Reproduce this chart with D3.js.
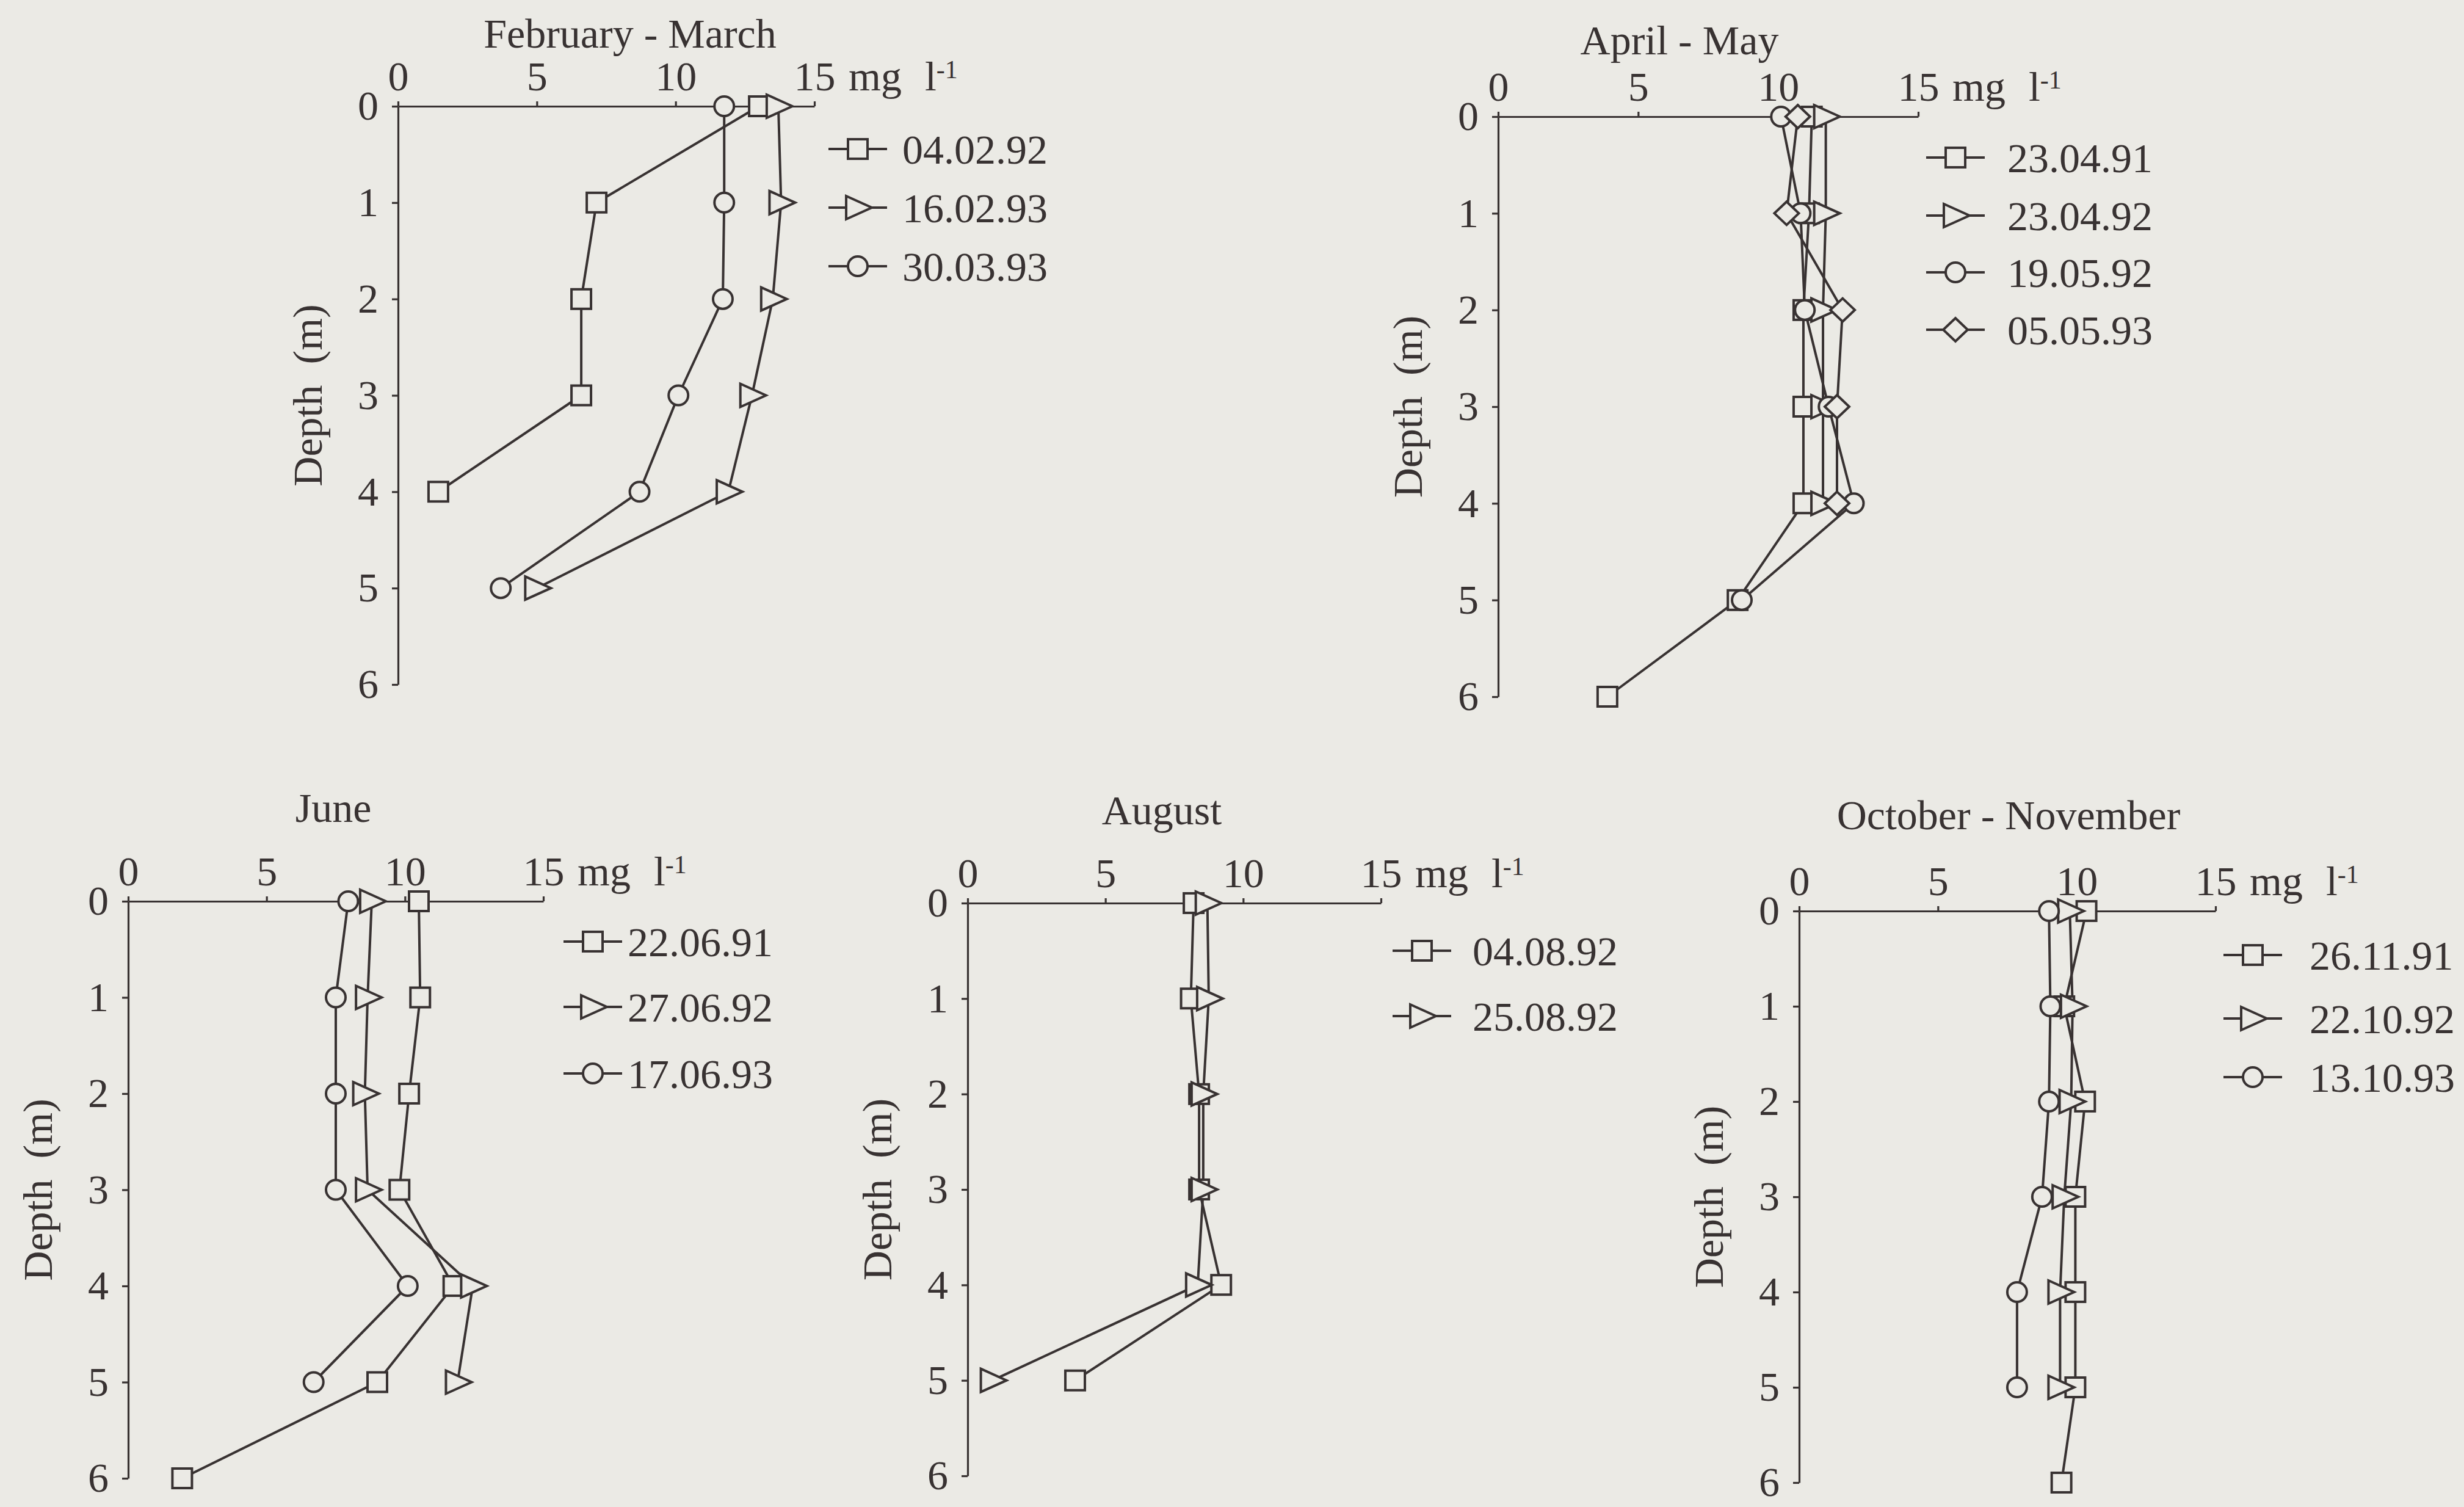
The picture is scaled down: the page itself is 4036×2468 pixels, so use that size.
<!DOCTYPE html>
<html><head><meta charset="utf-8">
<script src="https://cdn.jsdelivr.net/npm/d3@7"></script>
<style>
html,body{margin:0;padding:0;background:#ebeae5;}
svg{display:block;}
</style></head><body>
<svg id="c" width="4036" height="2468"></svg>
<script>
// ---------------- DATA ----------------
const xTicks = [0, 5, 10, 15];
const yTicks = [0, 1, 2, 3, 4, 5, 6];
const titles = ["February - March", "April - May", "June", "August", "October - November"];

// values indexed by depth (m): index 0 = 0 m, 1 = 1 m, ...
const febMarNames = ["04.02.92", "16.02.93", "30.03.93"];
const febMar_040292 = [13.0, 7.15, 6.6, 6.6, 1.45];
const febMar_160293 = [13.7, 13.8, 13.5, 12.75, 11.9, 5.0];
const febMar_300393 = [11.75, 11.75, 11.7, 10.1, 8.7, 3.7];

const aprMayNames = ["23.04.91", "23.04.92", "19.05.92", "05.05.93"];
const aprMay_230491 = [11.2, 11.1, 10.9, 10.9, 10.9, 8.55, 3.9];
const aprMay_230492 = [11.7, 11.7, 11.6, 11.6, 11.6];
const aprMay_190592 = [10.1, 10.8, 10.95, 11.8, 12.7, 8.7];
const aprMay_050593 = [10.7, 10.3, 12.3, 12.1, 12.1];

const juneNames = ["22.06.91", "27.06.92", "17.06.93"];
const june_220691 = [10.5, 10.55, 10.15, 9.8, 11.75, 9.0, 1.95];
const june_270692 = [8.8, 8.65, 8.55, 8.65, 12.45, 11.9];
const june_170693 = [7.95, 7.5, 7.5, 7.5, 10.1, 6.7];

const augNames = ["04.08.92", "25.08.92"];
const aug_040892 = [8.2, 8.1, 8.4, 8.4, 9.2, 3.9];
const aug_250892 = [8.7, 8.75, 8.55, 8.55, 8.35, 0.9];

const octNovNames = ["26.11.91", "22.10.92", "13.10.93"];
const octNov_261191 = [10.35, 9.55, 10.3, 9.95, 9.95, 9.95, 9.45];
const octNov_221092 = [9.75, 9.85, 9.8, 9.55, 9.4, 9.4];
const octNov_131093 = [9.0, 9.05, 9.0, 8.75, 7.85, 7.85];

// ---------------- LAYOUT ----------------
const layouts = [
  {x0: 652,  x15: 1334, y0: 174,  y6: 1121, tx: 1032, ty: 78,   lx: 1405, ltx: 1478, rows: [244, 340, 436]},
  {x0: 2454, x15: 3142, y0: 191,  y6: 1141, tx: 2751, ty: 89,   lx: 3203, ltx: 3288, rows: [258, 353, 446, 540]},
  {x0: 210,  x15: 890,  y0: 1476, y6: 2421, tx: 546,  ty: 1346, lx: 971,  ltx: 1028, rows: [1542, 1649, 1758]},
  {x0: 1585, x15: 2262, y0: 1479, y6: 2417, tx: 1903, ty: 1350, lx: 2329, ltx: 2412, rows: [1557, 1664]},
  {x0: 2947, x15: 3629, y0: 1492, y6: 2428, tx: 3290, ty: 1358, lx: 3690, ltx: 3783, rows: [1564, 1668, 1764]}
];

const panels = [
  {names: febMarNames, series: [febMar_040292, febMar_160293, febMar_300393], shapes: ["square", "triangle", "circle"]},
  {names: aprMayNames, series: [aprMay_230491, aprMay_230492, aprMay_190592, aprMay_050593], shapes: ["square", "triangle", "circle", "diamond"]},
  {names: juneNames, series: [june_220691, june_270692, june_170693], shapes: ["square", "triangle", "circle"]},
  {names: augNames, series: [aug_040892, aug_250892], shapes: ["square", "triangle"]},
  {names: octNovNames, series: [octNov_261191, octNov_221092, octNov_131093], shapes: ["square", "triangle", "circle"]}
];

// ---------------- STYLE ----------------
const ink = "#383232", bg = "#ebeae5";
const FONT = "'Liberation Serif','Times New Roman',serif";
const FS = 68;
const SW = 4;

const shapePath = {
  square: "M-16,-16h32v32h-32Z",
  triangle: "M-19,-19L23,0L-19,19Z",
  circle: "M16,0A16,16 0 1,1 -16,0A16,16 0 1,1 16,0Z",
  diamond: "M0,-19L20,0L0,19L-20,0Z"
};

const svg = d3.select("#c");
svg.append("rect").attr("width", 4036).attr("height", 2468).attr("fill", bg);

panels.forEach((p, pi) => {
  const L = layouts[pi];
  const g = svg.append("g");
  const x = d3.scaleLinear().domain([0, 15]).range([L.x0, L.x15]);
  const y = d3.scaleLinear().domain([0, 6]).range([L.y0, L.y6]);

  // x axis (top)
  const gx = g.append("g").attr("transform", `translate(0,${L.y0})`)
    .call(d3.axisTop(x).tickValues(xTicks).tickFormat(d3.format("d")).tickSize(8).tickPadding(18).tickSizeOuter(0));
  // y axis (left)
  const gy = g.append("g").attr("transform", `translate(${L.x0},0)`)
    .call(d3.axisLeft(y).tickValues(yTicks).tickFormat(d3.format("d")).tickSize(10).tickPadding(22).tickSizeOuter(0));
  [gx, gy].forEach(a => {
    a.attr("font-family", FONT).attr("font-size", FS);
    a.selectAll("path.domain").attr("stroke", ink).attr("stroke-width", 3.2);
    a.selectAll(".tick line").attr("stroke", ink).attr("stroke-width", 3.2);
    a.selectAll(".tick text").attr("fill", ink);
  });

  // unit label
  const by = L.y0 - 26;
  const ut = g.append("text")
    .attr("x", x(15) + 56).attr("y", by)
    .attr("font-family", FONT).attr("font-size", FS).attr("fill", ink)
    .text("mg");
  ut.append("tspan").attr("dx", 38).text("l");
  ut.append("tspan").attr("dx", 0).attr("dy", -20).attr("font-size", 42).text("-1");

  // title
  g.append("text").attr("x", L.tx).attr("y", L.ty)
    .attr("text-anchor", "middle").attr("font-family", FONT).attr("font-size", FS).attr("fill", ink)
    .text(titles[pi]);

  // depth label
  g.append("text")
    .attr("transform", `translate(${L.x0 - 125},${y(3)}) rotate(-90)`)
    .attr("text-anchor", "middle").attr("font-family", FONT).attr("font-size", FS).attr("fill", ink)
    .style("white-space", "pre")
    .text("Depth  (m)");

  // lines
  const line = d3.line().x(d => x(d.v)).y(d => y(d.depth));
  p.series.forEach(s => {
    const pts = s.map((v, i) => ({v, depth: i}));
    g.append("path").datum(pts).attr("d", line)
      .attr("fill", "none").attr("stroke", ink).attr("stroke-width", SW).attr("stroke-linejoin", "round");
  });
  // markers
  p.series.forEach((s, si) => {
    const pts = s.map((v, i) => ({v, depth: i}));
    g.append("g").selectAll("path").data(pts).join("path")
      .attr("d", shapePath[p.shapes[si]])
      .attr("transform", d => `translate(${x(d.v)},${y(d.depth)})`)
      .attr("fill", bg).attr("stroke", ink).attr("stroke-width", SW).attr("stroke-linejoin", "miter");
  });

  // legend
  p.names.forEach((n, i) => {
    const ry = L.rows[i];
    g.append("line").attr("x1", L.lx - 48).attr("x2", L.lx + 48).attr("y1", ry).attr("y2", ry)
      .attr("stroke", ink).attr("stroke-width", SW);
    g.append("path").attr("d", shapePath[p.shapes[i]]).attr("transform", `translate(${L.lx},${ry})`)
      .attr("fill", bg).attr("stroke", ink).attr("stroke-width", SW);
    g.append("text").attr("x", L.ltx).attr("y", ry).attr("dy", "0.35em")
      .attr("font-family", FONT).attr("font-size", FS).attr("fill", ink).text(n);
  });
});
</script>
</body></html>
